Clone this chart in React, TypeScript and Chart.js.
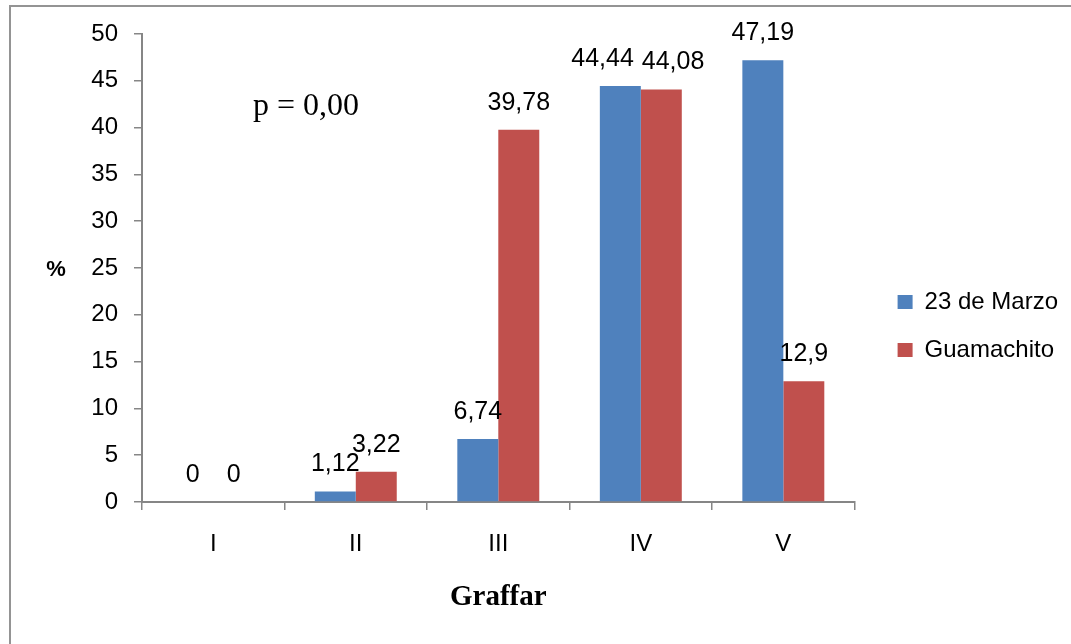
import { useEffect, useRef } from 'react';
import { Chart, registerables } from 'chart.js';

Chart.register(...registerables);

const categories = ['I', 'II', 'III', 'IV', 'V'];
const seriesNames = ['23 de Marzo', 'Guamachito'];
const marzoValues = [0, 1.12, 6.74, 44.44, 47.19];
const guamachitoValues = [0, 3.22, 39.78, 44.08, 12.9];
const seriesColors = ['#4F81BD', '#C0504D'];
const yMin = 0;
const yMax = 50;
const yStep = 5;
const xTitle = 'Graffar';
const yTitle = '%';
const pNote = 'p = 0,00';

const SANS = '"Liberation Sans", Arial, sans-serif';
const SERIF = '"Liberation Serif", "Times New Roman", serif';

const fmt = (v: number) => String(v).replace('.', ',');

const dataLabelPlugin = {
  id: 'dataLabels',
  afterDatasetsDraw(chart: any) {
    const ctx = chart.ctx;
    ctx.save();
    ctx.font = `25px ${SANS}`;
    ctx.fillStyle = '#000';
    ctx.textAlign = 'center';
    ctx.textBaseline = 'middle';
    const metas = chart.data.datasets.map((_: any, i: number) => chart.getDatasetMeta(i));
    categories.forEach((_, idx) => {
      const items = metas.map((m: any, di: number) => {
        const el = m.data[idx];
        const text = fmt(chart.data.datasets[di].data[idx]);
        return { x: el.x, y: el.y - 27, w: ctx.measureText(text).width, text };
      });
      for (let k = 0; k < items.length - 1; k++) {
        const a = items[k];
        const b = items[k + 1];
        if (Math.abs(a.y - b.y) < 12) {
          const need = a.w / 2 + b.w / 2 + 8;
          const have = b.x - a.x;
          if (have < need) {
            const s = (need - have) / 2;
            a.x -= s + 3;
            b.x += s - 3;
          }
        }
      }
      items.forEach((it: any) => ctx.fillText(it.text, it.x, it.y));
    });
    ctx.restore();
  },
};

const annotationPlugin = {
  id: 'annotations',
  afterDraw(chart: any) {
    const ctx = chart.ctx;
    const y = chart.scales.y;
    ctx.save();
    ctx.fillStyle = '#000';
    ctx.textBaseline = 'middle';
    ctx.textAlign = 'center';
    ctx.font = `bold 22px ${SANS}`;
    ctx.fillText(yTitle, 56, y.getPixelForValue(25) + 2);
    ctx.textAlign = 'left';
    ctx.font = `32px ${SERIF}`;
    ctx.fillText(pNote, 253, y.getPixelForValue(42.5) + 2);
    ctx.restore();
  },
};

export default function App() {
  const canvasRef = useRef<HTMLCanvasElement | null>(null);

  useEffect(() => {
    const canvas = canvasRef.current;
    if (!canvas) return;
    const axisColor = '#868686';
    const chart = new Chart(canvas, {
      type: 'bar',
      data: {
        labels: categories,
        datasets: [
          {
            label: seriesNames[0],
            data: marzoValues,
            backgroundColor: seriesColors[0],
            categoryPercentage: 0.575,
            barPercentage: 1,
          },
          {
            label: seriesNames[1],
            data: guamachitoValues,
            backgroundColor: seriesColors[1],
            categoryPercentage: 0.575,
            barPercentage: 1,
          },
        ],
      },
      options: {
        responsive: false,
        animation: false,
        devicePixelRatio: 1,
        layout: { padding: { left: 10, top: 34, right: 3, bottom: 26 } },
        plugins: {
          legend: {
            position: 'right',
            align: 'center',
            maxWidth: 300,
            labels: {
              boxWidth: 15,
              boxHeight: 14,
              padding: 24,
              color: '#000',
              font: { family: SANS, size: 24 },
            },
          },
          tooltip: { enabled: false },
        },
        scales: {
          x: {
            grid: {
              display: true,
              drawOnChartArea: false,
              drawTicks: true,
              tickLength: 8,
              color: axisColor,
              lineWidth: 1.5,
              offset: true,
            },
            border: { display: true, color: axisColor, width: 2 },
            ticks: { color: '#000', font: { family: SANS, size: 24 }, padding: 20 },
            title: {
              display: true,
              text: xTitle,
              color: '#000',
              font: { family: SERIF, size: 29, weight: 'bold' },
              padding: { top: 0, bottom: 3 },
            },
            afterFit: (s: any) => {
              s.height = 116;
            },
          },
          y: {
            min: yMin,
            max: yMax,
            ticks: {
              stepSize: yStep,
              color: '#000',
              font: { family: SANS, size: 24 },
              padding: 16,
            },
            grid: {
              display: true,
              drawOnChartArea: false,
              drawTicks: true,
              tickLength: 8,
              color: axisColor,
              lineWidth: 1.5,
            },
            border: { display: true, color: axisColor, width: 2 },
            afterFit: (s: any) => {
              s.width = 132;
            },
          },
          gap: {
            type: 'linear',
            position: 'right',
            display: true,
            grid: { display: false },
            border: { display: false },
            ticks: { display: false },
            afterFit: (s: any) => {
              s.width = 19;
            },
          },
        },
      } as any,
      plugins: [dataLabelPlugin, annotationPlugin],
    });
    return () => chart.destroy();
  }, []);

  return (
    <div
      style={{
        position: 'fixed',
        left: 0,
        top: 0,
        width: 1071,
        height: 644,
        overflow: 'hidden',
        background: '#fff',
      }}
    >
      <div
        style={{
          position: 'absolute',
          left: 9,
          top: 5,
          width: 1200,
          height: 800,
          borderLeft: '2px solid #949494',
          borderTop: '2px solid #949494',
        }}
      />
      <canvas
        ref={canvasRef}
        width={1071}
        height={644}
        style={{ position: 'absolute', left: 0, top: 0, width: 1071, height: 644 }}
      />
    </div>
  );
}
